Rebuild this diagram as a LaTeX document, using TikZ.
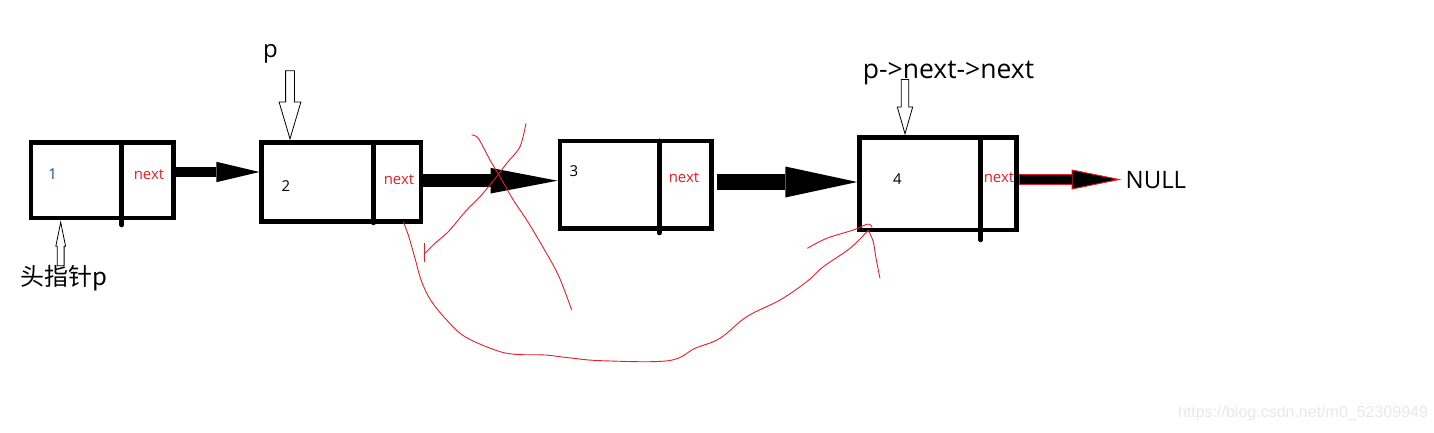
\documentclass[tikz,border=0pt]{standalone}
\usepackage{fontspec}
\setmainfont{Open Sans}
\newfontfamily\cjk{Noto Sans CJK SC}
\newfontfamily\wmfont{Liberation Sans}
\usetikzlibrary{arrows.meta,shapes.arrows}
\definecolor{paintred}{RGB}{237,28,36}
\definecolor{numblue}{RGB}{25,75,145}

\begin{document}
\begin{tikzpicture}[
  x=1pt, y=-1pt,
  cell/.style={draw, line width=4.5pt, inner sep=0pt},
  divider/.style={line width=4.5pt, line cap=round},
  num/.style={font=\fontsize{15}{15}\selectfont, inner sep=0pt},
  nxt/.style={num, text=paintred},
  big/.style={font=\fontsize{24}{24}\selectfont, inner sep=0pt},
  link/.style n args={3}{line width=#1, -{Triangle[length=#2, width=#3, line width=0pt]}},
  ptr/.style={single arrow, draw, fill=white, line width=0.8pt, anchor=tip},
  scribble/.style={paintred, line width=0.9pt}
]
\useasboundingbox (0,0) rectangle (1434,433);

% list cells
\node[cell, minimum width=142.3pt, minimum height=75.5pt] (n1) at (102.15,180.25) {};
\node[cell, minimum width=159.3pt, minimum height=79pt] (n2) at (341.35,182) {};
\node[cell, minimum width=151.7pt, minimum height=87.5pt] (n3) at (635.65,184.55) {};
\node[cell, minimum width=157pt, minimum height=92.5pt] (n4) at (938,183.75) {};
\draw[divider] (121.7,142.5) -- (121.7,225);
\draw[divider] (373.3,142.5) -- (373.3,223);
\draw[divider] (659.3,140.8) -- (659.3,233);
\draw[divider] (980.7,137.5) -- (980.7,240);

\node[num, text=numblue] (v1) at (52.7,174) {1};
\node[nxt] (x1) at (149,175) {next};
\node[num] (v2) at (286,185.7) {2};
\node[nxt] (x2) at (399,180) {next};
\node[num] (v3) at (574,170.7) {3};
\node[nxt] (x3) at (684,177.3) {next};
\node[num] (v4) at (897.3,179) {4};
\node[nxt] (x4) at (999,177.3) {next};

% labels and pointers
\node[big] (plab) at (270.5,54) {p};
\node[big, font=\fontsize{26.5}{26.5}\selectfont] (pnn) at (948.5,72.5) {p->next->next};
\node[big, anchor=west] (null) at (1125.5,180.5) {NULL};
\node[big, font=\cjk\fontsize{24}{24}\selectfont] (head) at (63.5,278) {头指针p};
\node[font=\wmfont\fontsize{16}{16}\selectfont, text=black!9] (mark) at (1303,413) {https://blog.csdn.net/m0\_52309949};

\node[ptr, shape border rotate=270, minimum height=68pt, inner sep=4pt,
  single arrow head extend=6.5pt, single arrow tip angle=33] (parr) at (n2.north -| 290,0) {};
\node[ptr, shape border rotate=90, minimum height=43.4pt, inner sep=3pt,
  single arrow head extend=1.5pt, single arrow tip angle=23] (harr) at (n1.south -| 60.7,0) {};
\node[ptr, shape border rotate=270, minimum height=54.3pt, inner sep=3.3pt,
  single arrow head extend=4pt, single arrow tip angle=32] (qarr) at (n4.north -| 905,0) {};

% links
\draw[link={10.7pt}{43pt}{20.4pt}] ([yshift=8.25pt]n1.east) -- ([yshift=10pt]n2.west);
\draw[link={13.3pt}{67pt}{25.6pt}] ([yshift=1.3pt]n2.east) -- ([yshift=3.85pt]n3.west);
\draw[link={16pt}{72pt}{31pt}] ([xshift=3pt,yshift=2.55pt]n3.east) -- ([yshift=1.75pt]n4.west);
\draw[paintred, line width=11pt, -{Triangle[length=50pt, width=20pt, line width=1pt, fill=black]}, shorten >=4pt]
  ([yshift=4.25pt]n4.east) -- ([yshift=4.25pt]n4.east -| null.west);
\draw[line width=9pt, shorten <=1pt, shorten >=53.5pt]
  ([yshift=4.25pt]n4.east) -- ([yshift=4.25pt]n4.east -| null.west);

% red pen strokes
\coordinate (cutfrom) at ([xshift=-20pt,yshift=2pt]n2.south east);
\coordinate (cutto) at ([xshift=11pt,yshift=2pt]n4.south west);
\draw[scribble] plot[smooth, tension=0.6] coordinates {(cutfrom) (408.3,235) (415,258.3) (421.7,281.7)
  (431.7,301.7) (448.3,321.7) (465,336.7) (495,350) (515,354.3) (545,355) (568.3,357.7) (601.7,360.7)
  (668.3,360.7) (695,348.3) (720,338.3) (746.7,316.7) (780,300) (806.7,281.7) (823.3,266.7) (850,248.3) (cutto)};
\draw[scribble] plot[smooth] coordinates {(cutto) (873.3,241.7) (876,258.3) (880,278.3)};
\draw[scribble] plot[smooth] coordinates {(807.3,248.3) (826.7,238.3) (853.3,230) (866.7,224.3) (870.7,225) (872,227.5)};
\draw[scribble] plot[smooth] coordinates {(526,123.3) (520,146.7) (506.7,163.3) (496.7,176.7) (480,196.7)
  (466.7,210) (448.3,231.7) (435,243.3) (425,253.3)};
\draw[scribble] (424.3,243.3) -- (424.3,261.7);
\draw[scribble] plot[smooth] coordinates {(471.7,135) (478.3,138.3) (490,160) (500,176.7) (513.3,200)
  (526.7,220) (541.7,245) (558.3,275) (571.7,310)};
\end{tikzpicture}
\end{document}
